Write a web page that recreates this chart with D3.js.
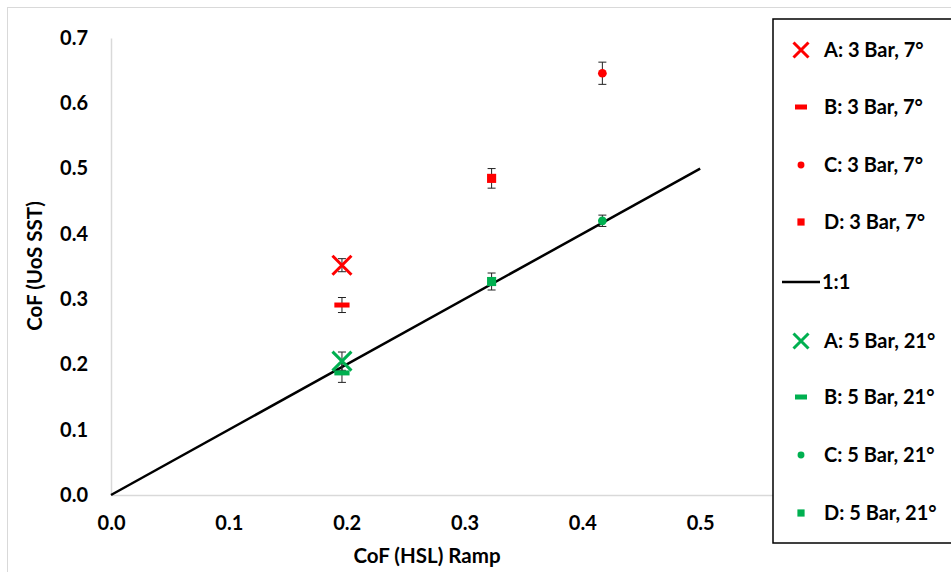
<!DOCTYPE html>
<html>
<head>
<meta charset="utf-8">
<script src="https://cdn.jsdelivr.net/npm/d3@7"></script>
<style>
  html, body { margin: 0; padding: 0; background: #fff; }
  svg { display: block; font-family: Lato, "Open Sans", sans-serif; font-weight: bold; }
</style>
</head>
<body>
<svg id="chart" width="951" height="572"></svg>
<script>
// Sample labels (A–D) and the two test conditions
const sampleIds = ["A", "B", "C", "D"];
const condition3 = "3 Bar, 7°";
const condition5 = "5 Bar, 21°";

// CoF measured on the HSL ramp (x) and on the UoS SST (y), with error half-widths
const hsl3 = [0.196, 0.196, 0.417, 0.323];
const sst3 = [0.352, 0.291, 0.646, 0.485];
const err3 = [0.010, 0.0115, 0.017, 0.015];

const hsl5 = [0.196, 0.196, 0.417, 0.323];
const sst5 = [0.205, 0.187, 0.420, 0.327];
const err5 = [0.014, 0.0145, 0.0087, 0.013];

// 1:1 reference line
const lineX = [0, 0.5];
const lineY = [0, 0.5];

// Axis ticks
const xTicks = [0, 0.1, 0.2, 0.3, 0.4, 0.5];
const yTicks = [0, 0.1, 0.2, 0.3, 0.4, 0.5, 0.6, 0.7];

const markerShapes = ["cross", "dash", "circle", "square"];
const red = "#ff0000", green = "#00b050";

const svg = d3.select("#chart");

// chart frame
svg.append("rect")
  .attr("x", 7.5).attr("y", 7.5).attr("width", 1000).attr("height", 1000)
  .attr("fill", "none").attr("stroke", "#d9d9d9").attr("stroke-width", 1);

const x = d3.scaleLinear().domain([0, 0.6]).range([111, 818]);
const y = d3.scaleLinear().domain([0, 0.7]).range([495, 38]);

// axes
const xAxis = svg.append("g").attr("transform", `translate(0,${y(0)})`)
  .call(d3.axisBottom(x).tickValues(xTicks).tickFormat(d3.format(".1f")).tickSize(0).tickPadding(21));
const yAxis = svg.append("g").attr("transform", `translate(${x(0)},0)`)
  .call(d3.axisLeft(y).tickValues(yTicks).tickFormat(d3.format(".1f")).tickSize(0).tickPadding(23));
[xAxis, yAxis].forEach(g => {
  g.select(".domain").attr("stroke", "#d9d9d9").attr("stroke-width", 1.5);
  g.selectAll("text").attr("font-family", "Lato, sans-serif").attr("font-weight", "bold")
    .attr("font-size", 20).attr("fill", "#000");
});

// axis titles
svg.append("text").attr("x", 427).attr("y", 563).attr("text-anchor", "middle")
  .attr("font-size", 20.5).attr("fill", "#000").text("CoF (HSL) Ramp");
svg.append("text").attr("transform", "translate(42,266) rotate(-90)").attr("text-anchor", "middle")
  .attr("font-size", 20.5).attr("fill", "#000").text("CoF (UoS SST)");

// 1:1 line
svg.append("path")
  .datum(lineX.map((v, i) => [v, lineY[i]]))
  .attr("d", d3.line().x(d => x(d[0])).y(d => y(d[1])))
  .attr("fill", "none").attr("stroke", "#000").attr("stroke-width", 2.5);

// marker drawing helper
function drawMarker(g, shape, color, s) {
  if (shape === "cross") {
    const h = s / 2;
    g.append("path").attr("d", `M${-h},${-h}L${h},${h}M${-h},${h}L${h},${-h}`)
      .attr("stroke", color).attr("stroke-width", 3).attr("fill", "none");
  } else if (shape === "dash") {
    g.append("rect").attr("x", -s * 0.4).attr("y", -2.5).attr("width", s * 0.8).attr("height", 5).attr("fill", color);
  } else if (shape === "circle") {
    g.append("circle").attr("r", s * 0.23).attr("fill", color);
  } else {
    g.append("rect").attr("x", -s * 0.24).attr("y", -s * 0.24).attr("width", s * 0.48).attr("height", s * 0.48).attr("fill", color);
  }
}

// points with error bars
function drawSeries(xs, ys, es, color) {
  xs.forEach((xv, i) => {
    const cx = x(xv), cy = y(ys[i]);
    const top = y(ys[i] + es[i]), bot = y(ys[i] - es[i]);
    const eb = svg.append("g").attr("stroke", "#222").attr("stroke-width", 1);
    eb.append("line").attr("x1", cx).attr("x2", cx).attr("y1", top).attr("y2", bot);
    eb.append("line").attr("x1", cx - 4).attr("x2", cx + 4).attr("y1", top).attr("y2", top);
    eb.append("line").attr("x1", cx - 4).attr("x2", cx + 4).attr("y1", bot).attr("y2", bot);
  });
  xs.forEach((xv, i) => {
    const g = svg.append("g").attr("transform", `translate(${x(xv)},${y(ys[i])})`);
    drawMarker(g, markerShapes[i], color, 19);
  });
}
drawSeries(hsl3, sst3, err3, red);
drawSeries(hsl5, sst5, err5, green);

// legend
const legend = svg.append("g");
legend.append("rect").attr("x", 773).attr("y", 19).attr("width", 300).attr("height", 524)
  .attr("fill", "#fff").attr("stroke", "#000").attr("stroke-width", 1.5);

const legendItems = [
  ...sampleIds.map((id, i) => ({ kind: markerShapes[i], color: red, label: `${id}: ${condition3}` })),
  { kind: "line", color: "#000", label: "1:1" },
  ...sampleIds.map((id, i) => ({ kind: markerShapes[i], color: green, label: `${id}: ${condition5}` }))
];
const legendY = [50, 107, 165, 222, 282, 341, 397, 455, 513];
legendItems.forEach((it, i) => {
  const g = legend.append("g").attr("transform", `translate(801,${legendY[i]})`);
  if (it.kind === "line") {
    g.append("line").attr("x1", -19).attr("x2", 19).attr("y1", 0).attr("y2", 0)
      .attr("stroke", "#000").attr("stroke-width", 2.5);
    g.append("text").attr("x", 21).attr("dy", "0.35em").attr("font-size", 20).attr("fill", "#000").text(it.label);
  } else {
    drawMarker(g, it.kind, it.color, 15);
    g.append("text").attr("x", 23).attr("dy", "0.35em").attr("font-size", 20).attr("fill", "#000").text(it.label);
  }
});
</script>
</body>
</html>
